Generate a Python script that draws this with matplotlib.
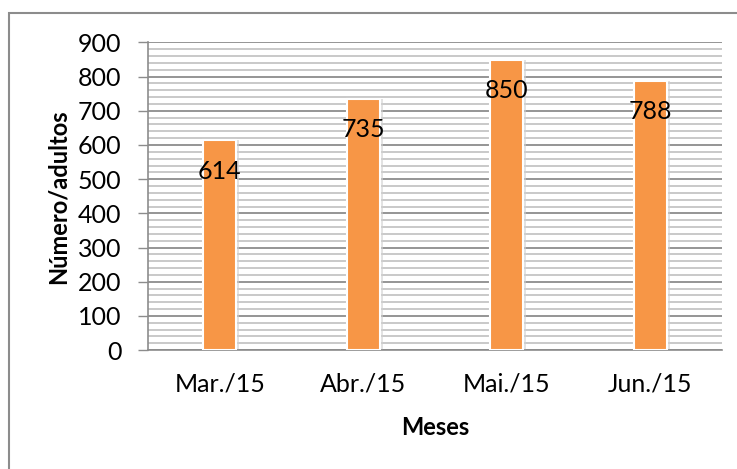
import matplotlib
matplotlib.use("Agg")
import matplotlib.pyplot as plt
from matplotlib.patches import Rectangle
from matplotlib.ticker import MultipleLocator

categories = ["Mar./15", "Abr./15", "Mai./15", "Jun./15"]
values = [614, 735, 850, 788]

plt.rcParams['font.family'] = ['Lato', 'DejaVu Sans']

fig = plt.figure(figsize=(7.37, 4.69), dpi=100)
ax = fig.add_axes([0.2008, 0.2537, 0.9797 - 0.2008, 0.9094 - 0.2537])

x = list(range(len(categories)))
# subtle shadow
ax.bar([xi + 0.012 for xi in x], values, width=0.25, color="#d0d0d0", zorder=2, alpha=0.6)
ax.bar(x, values, width=0.23, color="#F79646", edgecolor="white", linewidth=1.5, zorder=3)

for xi, v in zip(x, values):
    ax.annotate(str(v), (xi, v), xytext=(0, -14), textcoords="offset points",
                ha="center", va="top", fontsize=18, color="black", zorder=4)

ax.set_xlim(-0.5, 3.5)
ax.set_ylim(0, 900)
ax.yaxis.set_major_locator(MultipleLocator(100))
ax.yaxis.set_minor_locator(MultipleLocator(20))
ax.grid(which="major", axis="y", color="#8c8c8c", linewidth=1.3, zorder=1)
ax.grid(which="minor", axis="y", color="#bababa", linewidth=1.1, zorder=1)
ax.set_axisbelow(True)

ax.set_xticks(x)
ax.set_xticklabels(categories, fontsize=18)
ax.tick_params(axis="x", length=0, pad=16)
ax.tick_params(axis="y", which="major", length=7, width=1, color="#8c8c8c", labelsize=18, pad=12)
ax.tick_params(axis="y", which="minor", length=0)

for s in ["top", "right"]:
    ax.spines[s].set_visible(False)
for s in ["left", "bottom"]:
    ax.spines[s].set_color("#8c8c8c")
    ax.spines[s].set_linewidth(1.2)

ax.set_xlabel("Meses", fontsize=17, fontweight="bold", labelpad=15)
ax.set_ylabel("Número/adultos", fontsize=17, fontweight="bold", labelpad=6)

fig.patches.append(Rectangle((9 / 737, -0.05), 1.2, 1 - 13 / 469 + 0.05, transform=fig.transFigure,
                             fill=False, edgecolor="#8c8c8c", linewidth=1.5))

fig.savefig("out.png", dpi=100)
